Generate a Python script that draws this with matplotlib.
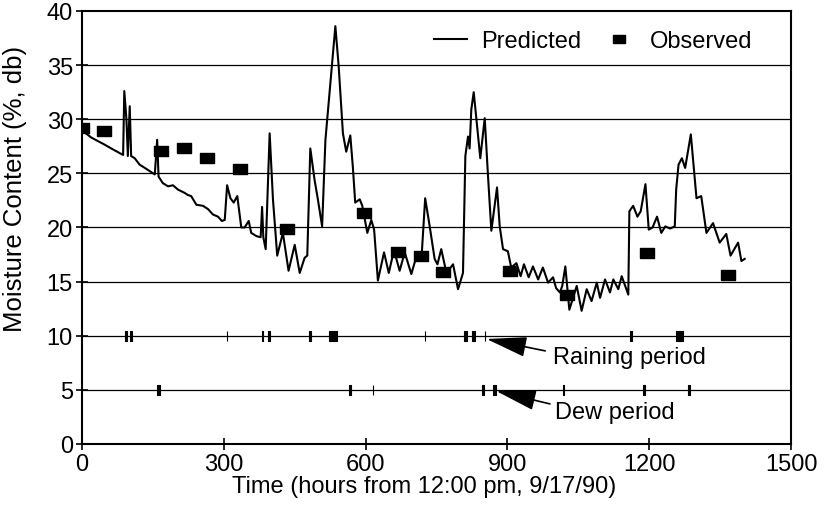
import matplotlib
matplotlib.use("Agg")
import matplotlib.pyplot as plt
from matplotlib.lines import Line2D

plt.rcParams["font.family"] = ["Liberation Sans", "DejaVu Sans"]

# predicted moisture content (hours, %db)
pred_t = [0, 2, 20, 48, 66, 87, 89.5, 94, 97, 101, 104, 111.5, 122, 133, 143.5, 154,
          159, 162, 171, 182, 192.5, 203, 217, 224, 231, 242, 256, 266.6, 277, 287.7,
          296, 302, 307, 314, 321, 328.5, 337, 344, 352.7, 358, 369, 378, 381, 383.6,
          388.6, 397, 404, 413, 425, 437, 450, 460.6, 471, 476.6, 483, 492, 499, 508,
          515, 526, 536, 543, 552, 559, 567.6, 573, 578, 587.5, 593, 603.6, 612, 618,
          626, 639, 649, 660, 672, 682.7, 696.7, 708, 718, 726, 735.6, 746, 752, 760,
          771, 785, 795.5, 806, 811, 816.6, 820, 823.6, 828.7, 842.6, 852, 859, 866,
          878, 883.7, 890.7, 901, 908, 919, 928, 935, 945, 954, 965, 975, 986, 996.5,
          1003, 1011, 1016, 1022.5, 1031, 1046.6, 1057, 1067.7, 1078, 1089, 1096,
          1106.5, 1117, 1124, 1134.6, 1141.8, 1155.7, 1158, 1166, 1175, 1182, 1192,
          1199, 1207, 1216.5, 1225.5, 1234, 1244, 1254, 1257, 1262, 1269, 1276, 1288,
          1296, 1300, 1310, 1321, 1335, 1349, 1363, 1372, 1388, 1395, 1402]
pred_v = [29.6, 28.9, 28.3, 27.65, 27.2, 26.7, 32.6, 30.0, 26.6, 31.2, 26.6, 26.4, 25.8,
          25.5, 25.2, 24.9, 28.1, 24.7, 24.1, 23.8, 23.9, 23.5, 23.2, 23.0, 22.9, 22.1,
          22.0, 21.7, 21.2, 21.0, 20.6, 20.7, 23.9, 22.7, 22.3, 22.9, 20.0, 20.0, 20.6,
          19.5, 19.2, 19.1, 21.9, 19.1, 18.0, 28.7, 22.6, 17.4, 19.5, 16.0, 18.4, 15.8,
          17.2, 17.4, 27.3, 24.4, 22.6, 20.1, 28.1, 33.6, 38.6, 34.9, 28.7, 27.0, 28.5,
          25.6, 22.3, 22.6, 22.0, 19.5, 20.7, 19.8, 15.1, 17.7, 15.8, 17.9, 16.0, 17.7,
          15.7, 17.4, 17.0, 22.7, 20.1, 17.1, 16.6, 18.0, 15.8, 16.6, 14.3, 15.8, 26.6,
          28.4, 27.3, 30.9, 32.5, 26.4, 30.1, 24.7, 19.7, 23.7, 20.1, 18.0, 17.8, 16.3,
          16.7, 15.5, 16.6, 15.4, 16.4, 15.2, 16.3, 14.9, 15.4, 14.4, 14.0, 14.6, 16.4,
          12.4, 14.6, 12.3, 14.3, 13.2, 14.9, 13.5, 15.2, 14.0, 15.2, 14.3, 15.5, 13.8,
          21.5, 22.0, 21.0, 21.5, 24.0, 19.8, 20.0, 21.0, 19.5, 20.1, 19.9, 20.1, 23.5,
          25.8, 26.4, 25.5, 28.6, 24.7, 22.7, 22.9, 19.5, 20.4, 18.6, 19.4, 17.4, 18.6,
          16.9, 17.1]

# observed moisture content
obs_t = [0, 46.5, 168, 216, 264, 334, 433, 597, 669, 716.5, 764, 905.5, 1025, 1196, 1367]
obs_v = [29.2, 28.9, 27.1, 27.3, 26.4, 25.4, 19.9, 21.3, 17.7, 17.4, 15.9, 16.0, 13.8, 17.6, 15.6]

# (start hour, duration) of raining and dew periods
rain = [(92, 4), (102, 4), (306, 1), (381, 1), (394, 4), (480, 4), (522, 18), (725, 1),
        (809, 6), (826, 6), (852, 1), (1160, 3), (1257, 14)]
dew = [(159, 5), (565, 4), (615, 1), (847, 4), (870, 5), (1018, 1), (1187, 4), (1283, 4)]

FS = 17

fig = plt.figure(figsize=(8.24, 5.10), dpi=100)
ax = fig.add_axes([0.0995, 0.1275, 0.8605, 0.849])

for yv in range(5, 40, 5):
    ax.axhline(yv, color="black", lw=0.9, zorder=1)

ax.plot(pred_t, pred_v, color="black", lw=1.5, zorder=3)
sq = [(-1.4, -1), (1.4, -1), (1.4, 1), (-1.4, 1), (-1.4, -1)]
ax.plot(obs_t, obs_v, linestyle="none", marker=sq, markersize=10, color="black", zorder=4)

ax.broken_barh(rain, (9.55, 0.9), facecolor="black", edgecolor="black", lw=0.8, zorder=3)
ax.broken_barh(dew, (4.55, 0.9), facecolor="black", edgecolor="black", lw=0.8, zorder=3)

arrow = dict(arrowstyle="-|>,head_length=1.4,head_width=0.35", mutation_scale=18,
             lw=1.2, color="black", shrinkA=0, shrinkB=0)
ax.annotate("", xy=(856, 9.7), xytext=(980, 8.6), arrowprops=arrow)
ax.text(996, 8.0, "Raining period", fontsize=FS, va="center", ha="left")
ax.annotate("", xy=(876, 4.9), xytext=(990, 3.7), arrowprops=arrow)
ax.text(1000, 2.95, "Dew period", fontsize=FS, va="center", ha="left")

ax.set_xlim(0, 1500)
ax.set_ylim(0, 40)
ax.set_xticks(range(0, 1501, 300))
ax.set_yticks(range(0, 41, 5))
ax.tick_params(direction="inout", length=9, width=1.2, labelsize=FS, pad=2)
for s in ax.spines.values():
    s.set_linewidth(1.5)
ax.set_xlabel("Time (hours from 12:00 pm, 9/17/90)", fontsize=FS)
ax.xaxis.set_label_coords(0.483, -0.072)
ax.set_ylabel("Moisture Content (%, db)", fontsize=18.5)
ax.yaxis.set_label_coords(-0.078, 0.591)

handles = [Line2D([], [], color="black", lw=1.5),
           Line2D([], [], linestyle="none", marker=sq, markersize=9, color="black")]
ax.legend(handles, ["Predicted", "Observed"], ncol=2, frameon=False, fontsize=FS,
          loc="upper right", bbox_to_anchor=(0.975, 1.005), handlelength=1.4,
          columnspacing=0.9, handletextpad=0.6)

fig.savefig("out.png", dpi=100)
